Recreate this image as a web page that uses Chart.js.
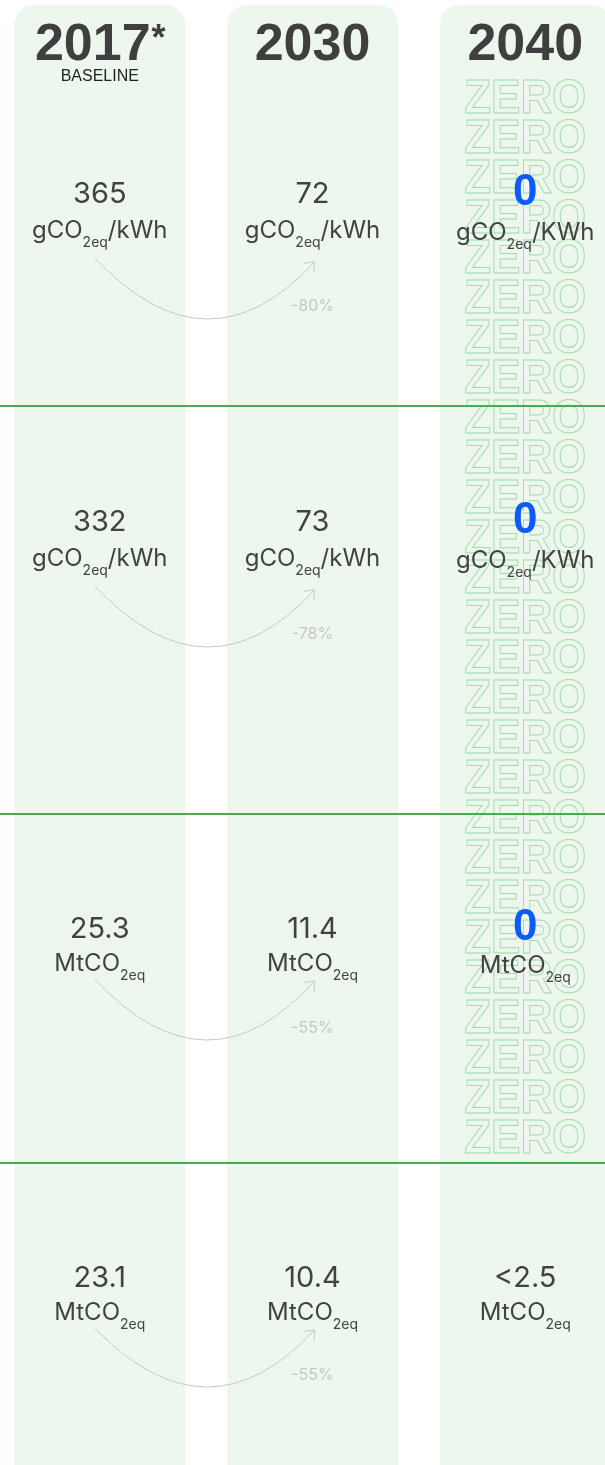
<!DOCTYPE html>
<html><head><meta charset="utf-8">
<script src="https://cdn.jsdelivr.net/npm/chart.js@4"></script>
<style>html,body{margin:0;padding:0;background:#fff}#wrap{width:605px;height:1465px;position:relative}</style>
</head><body><div id="wrap"><canvas id="c"></canvas></div>
<script>
// ---- data ----
const years = ['2017*', '2030', '2040'];
const yearNotes = ['BASELINE', '', ''];
const values2017 = [365, 332, 25.3, 23.1];
const values2030 = [72, 73, 11.4, 10.4];
const values2040 = ['0', '0', '0', '<2.5'];
const unitStem = ['gCO', 'gCO', 'MtCO', 'MtCO'];
const unitSub = ['2eq', '2eq', '2eq', '2eq'];
const unitTail = ['/kWh', '/kWh', '', ''];
const unitTail2040 = ['/KWh', '/KWh', '', ''];
const zeroTarget = [true, true, true, false];
const changeLabels = values2017.map((v, i) => '-' + Math.abs(Math.round((values2030[i] - v) / v * 100)) + '%');

// ---- layout (scale units, y scale is 1:1 with the page) ----
const rowLayout = [
  {value: 203, unit: 238, arcFrom: 258, arcTo: 262, arcLow: 319, change: 311},
  {value: 531, unit: 566, arcFrom: 586, arcTo: 590, arcLow: 647, change: 639},
  {value: 938, unit: 971, arcFrom: 979, arcTo: 981, arcLow: 1040, change: 1033},
  {value: 1287, unit: 1320, arcFrom: 1328, arcTo: 1330, arcLow: 1387, change: 1380}
];
const dividers = [406, 814, 1163];
const zeroPattern = {first: 113, step: 40, count: 27};

const TEXT = '#424242';
const FONT_VAL = 'Inter';

function drawUnit(ctx, cx, base, stem, sub, tail) {
  ctx.font = '400 24px ' + FONT_VAL;
  const w1 = ctx.measureText(stem).width, w3 = ctx.measureText(tail).width;
  ctx.font = '400 14px ' + FONT_VAL;
  const w2 = ctx.measureText(sub).width;
  let xx = cx - (w1 + w2 + w3) / 2;
  ctx.textAlign = 'left';
  ctx.font = '400 24px ' + FONT_VAL;
  ctx.fillText(stem, xx, base); xx += w1;
  ctx.font = '400 14px ' + FONT_VAL;
  ctx.fillText(sub, xx, base + 9); xx += w2;
  ctx.font = '400 24px ' + FONT_VAL;
  if (tail) ctx.fillText(tail, xx, base);
  ctx.textAlign = 'center';
}

function drawHeader(ctx, label, cx, base) {
  const star = label.endsWith('*');
  const main = star ? label.slice(0, -1) : label;
  ctx.font = 'bold 52px "Liberation Sans"';
  const w1 = ctx.measureText(main).width;
  ctx.font = 'bold 36px "Liberation Sans"';
  const w2 = star ? ctx.measureText('*').width : 0;
  let xx = cx - (w1 + w2) / 2;
  ctx.textAlign = 'left';
  ctx.font = 'bold 52px "Liberation Sans"';
  ctx.fillText(main, xx, base);
  if (star) { ctx.font = 'bold 36px "Liberation Sans"'; ctx.fillText('*', xx + w1 + 1, base - 10); }
  ctx.textAlign = 'center';
}

const infographic = {
  id: 'infographic',
  afterDatasetsDraw(chart) {
    const {ctx, scales: {x, y}} = chart;
    const cx = years.map((_, i) => x.getPixelForValue(i));
    ctx.save();
    // ZERO pattern in the 2040 column
    ctx.font = 'bold 48px "Liberation Sans"';
    ctx.textAlign = 'center';
    ctx.textBaseline = 'alphabetic';
    ctx.strokeStyle = '#a3dbaa';
    ctx.lineWidth = 1;
    for (let k = 0; k < zeroPattern.count; k++) {
      ctx.strokeText('ZERO', cx[2], y.getPixelForValue(zeroPattern.first + k * zeroPattern.step), 122);
    }
    // dividers
    ctx.strokeStyle = '#45ad4f';
    ctx.lineWidth = 2;
    dividers.forEach(d => {
      const py = y.getPixelForValue(d);
      ctx.beginPath(); ctx.moveTo(0, py); ctx.lineTo(chart.width, py); ctx.stroke();
    });
    // headers
    ctx.fillStyle = '#3f3f3f';
    years.forEach((yr, i) => drawHeader(ctx, yr, cx[i], y.getPixelForValue(60)));
    ctx.fillStyle = '#222222';
    ctx.font = '400 16px "Liberation Sans"';
    yearNotes.forEach((n, i) => { if (n) ctx.fillText(n, cx[i], y.getPixelForValue(81)); });
    // rows
    rowLayout.forEach((L, r) => {
      const vb = y.getPixelForValue(L.value), ub = y.getPixelForValue(L.unit);
      ctx.fillStyle = TEXT;
      ctx.font = '400 29px ' + FONT_VAL;
      ctx.fillText(String(values2017[r]), cx[0], vb);
      ctx.fillText(String(values2030[r]), cx[1], vb);
      drawUnit(ctx, cx[0], ub, unitStem[r], unitSub[r], unitTail[r]);
      drawUnit(ctx, cx[1], ub, unitStem[r], unitSub[r], unitTail[r]);
      if (zeroTarget[r]) {
        ctx.fillStyle = '#0a5cff';
        ctx.font = 'bold 44px "Liberation Sans"';
        ctx.fillText(values2040[r], cx[2], vb + 2);
        ctx.fillStyle = TEXT;
        drawUnit(ctx, cx[2], ub + 2, unitStem[r], unitSub[r], unitTail2040[r]);
      } else {
        ctx.fillStyle = TEXT;
        ctx.font = '400 29px ' + FONT_VAL;
        ctx.fillText(values2040[r], cx[2], vb);
        drawUnit(ctx, cx[2], ub, unitStem[r], unitSub[r], unitTail2040[r]);
      }
      // arc arrow
      const x0 = cx[0] - 5, y0 = y.getPixelForValue(L.arcFrom);
      const x1 = cx[1] + 2, y1 = y.getPixelForValue(L.arcTo);
      const low = y.getPixelForValue(L.arcLow);
      const qx = (x0 + x1) / 2 + 3, qy = 2 * low - (y0 + y1) / 2;
      ctx.strokeStyle = '#c8c8c8';
      ctx.lineWidth = 1;
      ctx.beginPath(); ctx.moveTo(x0, y0); ctx.quadraticCurveTo(qx, qy, x1, y1); ctx.stroke();
      const back = Math.atan2(qy - y1, qx - x1);
      const len = 11, spread = 0.7;
      ctx.beginPath();
      ctx.moveTo(x1 + len * Math.cos(back + spread), y1 + len * Math.sin(back + spread));
      ctx.lineTo(x1, y1);
      ctx.lineTo(x1 + len * Math.cos(back - spread), y1 + len * Math.sin(back - spread));
      ctx.stroke();
      // change label
      ctx.fillStyle = '#c6c6c6';
      ctx.font = '400 16px ' + FONT_VAL;
      ctx.fillText(changeLabels[r], cx[1], y.getPixelForValue(L.change));
    });
    ctx.restore();
  }
};

function build() {
  new Chart(document.getElementById('c'), {
    type: 'bar',
    data: {
      datasets: [{
        data: years.map((yr, i) => ({x: i, y: [5, 1500]})),
        backgroundColor: '#edf7ee',
        borderRadius: 20,
        borderSkipped: false,
        barThickness: 170
      }]
    },
    options: {
      responsive: true,
      maintainAspectRatio: false,
      animation: false,
      events: [],
      layout: {padding: 0},
      plugins: {legend: {display: false}, tooltip: {enabled: false}},
      scales: {
        x: {type: 'linear', min: -0.4689, max: 2.3748, offset: false, grid: {offset: false}, display: false},
        y: {type: 'linear', min: 0, max: 1465, reverse: true, display: false}
      }
    },
    plugins: [infographic]
  });
}
Promise.all([
  document.fonts.load('29px Inter'),
  document.fonts.load('bold 52px "Liberation Sans"')
]).then(build, build);
</script>
</body></html>
